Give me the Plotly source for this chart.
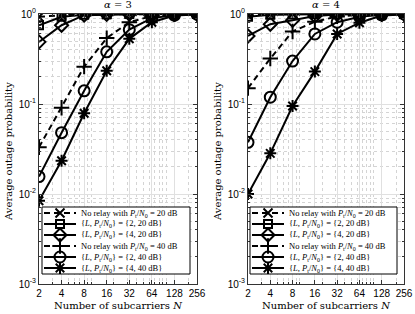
import plotly.graph_objects as go

N = [2, 4, 8, 16, 32, 64, 128, 256]

# alpha = 3
a3_nr20 = [0.93, 0.97, 0.99, 0.995, 1.0, 1.0, 1.0, 1.0]
a3_l2_20 = [0.75, 0.93, 0.98, 0.995, 1.0, 1.0, 1.0, 1.0]
a3_l4_20 = [0.49, 0.75, 0.97, 0.99, 0.995, 1.0, 1.0, 1.0]
a3_nr40 = [0.033, 0.091, 0.26, 0.54, 0.81, 0.95, 0.99, 1.0]
a3_l2_40 = [0.0156, 0.048, 0.14, 0.38, 0.67, 0.9, 0.97, 0.995]
a3_l4_40 = [0.0084, 0.0234, 0.079, 0.234, 0.53, 0.81, 0.96, 0.99]

# alpha = 4
a4_nr20 = [0.96, 0.99, 1.0, 1.0, 1.0, 1.0, 1.0, 1.0]
a4_l2_20 = [0.93, 0.98, 0.99, 1.0, 1.0, 1.0, 1.0, 1.0]
a4_l4_20 = [0.57, 0.77, 0.85, 0.95, 0.99, 1.0, 1.0, 1.0]
a4_nr40 = [0.15, 0.32, 0.64, 0.82, 0.94, 0.98, 1.0, 1.0]
a4_l2_40 = [0.0375, 0.119, 0.30, 0.60, 0.81, 0.93, 0.98, 1.0]
a4_l4_40 = [0.01, 0.0283, 0.095, 0.229, 0.60, 0.80, 0.96, 0.99]

names = [
    "No relay with <i>P</i><sub>t</sub>/<i>N</i><sub>0</sub> = 20 dB",
    "{<i>L</i>, <i>P</i><sub>t</sub>/<i>N</i><sub>0</sub>} = {2, 20 dB}",
    "{<i>L</i>, <i>P</i><sub>t</sub>/<i>N</i><sub>0</sub>} = {4, 20 dB}",
    "No relay with <i>P</i><sub>t</sub>/<i>N</i><sub>0</sub> = 40 dB",
    "{<i>L</i>, <i>P</i><sub>t</sub>/<i>N</i><sub>0</sub>} = {2, 40 dB}",
    "{<i>L</i>, <i>P</i><sub>t</sub>/<i>N</i><sub>0</sub>} = {4, 40 dB}",
]
titles = ["<i>α</i> = 3", "<i>α</i> = 4"]
xticks = [2, 4, 8, 16, 32, 64, 128, 256]
xticktext = [str(v) for v in xticks]
yticks = [1e-3, 1e-2, 1e-1, 1]
yticktext = ["10<sup>-3</sup>", "10<sup>-2</sup>", "10<sup>-1</sup>", "10<sup>0</sup>"]

symbols = ["x-thin-open", "square-open", "diamond-open", "cross-thin-open", "circle-open", "asterisk-open"]
sizes = [9, 8, 10, 11, 11, 10]
dashes = ["6px,4px", "solid", "solid", "6px,4px", "solid", "solid"]

W, H = 415, 314
fig = go.Figure()
panels = [
    ([a3_nr20, a3_l2_20, a3_l4_20, a3_nr40, a3_l2_40, a3_l4_40], "x", "y"),
    ([a4_nr20, a4_l2_20, a4_l4_20, a4_nr40, a4_l2_40, a4_l4_40], "x2", "y2"),
]
for series, xa, ya in panels:
    for i, s in enumerate(series):
        fig.add_trace(go.Scatter(
            x=N, y=s, name=names[i], xaxis=xa, yaxis=ya, showlegend=False,
            mode="lines+markers",
            line=dict(color="black", width=2, dash=dashes[i]),
            marker=dict(symbol=symbols[i], size=sizes[i], color="black",
                        line=dict(color="black", width=2)),
        ))

# ---- hand-built compact legends (overlay axes in pixel units) ----
legend_boxes = [(42, 207, 190, 274), (250, 207, 397, 274)]  # left, top, right, bottom
row_h = 11
leg_font = dict(family="Liberation Serif", size=8.5, color="black")
for (l, t, r, b) in legend_boxes:
    fig.add_trace(go.Scatter(x=[l, r, r, l, l], y=[t, t, b, b, t], mode="lines",
                             fill="toself", fillcolor="white",
                             line=dict(color="black", width=1),
                             xaxis="x3", yaxis="y3", showlegend=False, hoverinfo="skip"))
    for i in range(6):
        yc = t + 6 + i * row_h
        fig.add_trace(go.Scatter(x=[l + 2, l + 34], y=[yc, yc], mode="lines",
                                 line=dict(color="black", width=2, dash=dashes[i]),
                                 xaxis="x3", yaxis="y3", showlegend=False, hoverinfo="skip"))
        fig.add_trace(go.Scatter(x=[l + 18], y=[yc], mode="markers",
                                 marker=dict(symbol=symbols[i], size=sizes[i], color="black",
                                             line=dict(color="black", width=2)),
                                 xaxis="x3", yaxis="y3", showlegend=False, hoverinfo="skip"))
        fig.add_annotation(x=(l + 37) / W, y=1 - yc / H, xref="paper", yref="paper",
                           text=names[i], showarrow=False, font=leg_font,
                           xanchor="left", yanchor="middle")

xminor = [3, 5, 6, 7, 9, 10, 20, 30, 40, 50, 60, 70, 80, 90, 100, 200]
yminor = [m * 10 ** e for e in (-3, -2, -1) for m in range(2, 10)]
tickfont = dict(family="Liberation Sans, Arial", size=10, color="black")

def xaxis(domain, anchor):
    return dict(type="log", domain=domain, anchor=anchor, range=[0.30103, 2.40824],
                tickmode="array", tickvals=xticks, ticktext=xticktext,
                tickfont=tickfont, ticks="inside", ticklen=4, tickcolor="#333",
                showline=True, linecolor="#333", linewidth=1, mirror="ticks",
                showgrid=True, gridcolor="#e0e0e0", gridwidth=1,
                minor=dict(tickmode="array", tickvals=xminor, ticks="inside", ticklen=2,
                           tickcolor="#333", showgrid=True, gridcolor="#d4d4d4",
                           griddash="dot", gridwidth=1),
                zeroline=False)

def yaxis(domain, anchor):
    return dict(type="log", domain=domain, anchor=anchor, range=[-3, 0],
                tickmode="array", tickvals=yticks, ticktext=yticktext,
                tickfont=tickfont, ticks="inside", ticklen=4, tickcolor="#333",
                showline=True, linecolor="#333", linewidth=1, mirror="ticks",
                showgrid=True, gridcolor="#e0e0e0", gridwidth=1,
                minor=dict(tickmode="array", tickvals=yminor, ticks="inside", ticklen=2,
                           tickcolor="#333", showgrid=True, gridcolor="#d4d4d4",
                           griddash="dot", gridwidth=1),
                zeroline=False)

ydom = [1 - 284 / H, 1 - 14 / H]
fig.update_layout(
    width=W, height=H, margin=dict(l=0, r=0, t=0, b=0, autoexpand=False),
    paper_bgcolor="white", plot_bgcolor="rgba(0,0,0,0)",
    xaxis=xaxis([39 / W, 197 / W], "y"),
    yaxis=yaxis(ydom, "x"),
    xaxis2=xaxis([248 / W, 404 / W], "y2"),
    yaxis2=yaxis(ydom, "x2"),
    xaxis3=dict(domain=[0, 1], range=[0, W], visible=False, anchor="y3", fixedrange=True),
    yaxis3=dict(domain=[0, 1], range=[H, 0], visible=False, anchor="x3", fixedrange=True),
    showlegend=False,
)

serif = dict(family="DejaVu Serif", size=10, color="black")
for cx, txt in [((39 + 197) / 2 / W, titles[0]), ((248 + 404) / 2 / W, titles[1])]:
    fig.add_annotation(x=cx, y=1 - 5 / H, xref="paper", yref="paper", text=txt,
                       showarrow=False, font=serif, xanchor="center", yanchor="middle")
    fig.add_annotation(x=cx, y=1 - 305 / H, xref="paper", yref="paper",
                       text="Number of subcarriers <i>N</i>",
                       showarrow=False, font=serif, xanchor="center", yanchor="middle")
for lx in [8 / W, 217 / W]:
    fig.add_annotation(x=lx, y=1 - 152 / H, xref="paper", yref="paper",
                       text="Average outage probability", textangle=-90,
                       showarrow=False, font=serif, xanchor="center", yanchor="middle")

fig.write_html("out.html", config={"displayModeBar": False},
               post_script="document.body.style.margin='0';document.body.style.overflow='hidden';")
